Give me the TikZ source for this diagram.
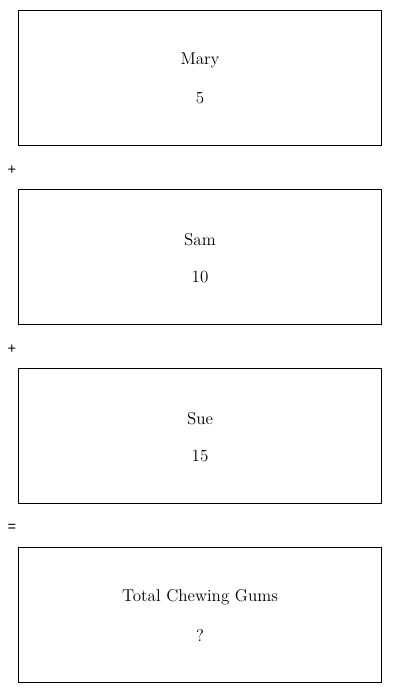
\documentclass[tikz,border=0pt]{standalone}
\usepackage{fontspec}
\newfontfamily\opfont{Liberation Sans}
\tikzset{
  gbox/.style={draw, line width=0.75pt, minimum width=363*0.75pt, minimum height=135*0.75pt, inner sep=0pt, anchor=north west},
  lbl/.style={font=\fontsize{12.8}{14}\selectfont, inner sep=0pt},
  op/.style={font=\opfont\fontsize{11}{12}\selectfont, inner sep=0pt}
}
\begin{document}
\begin{tikzpicture}[x=0.75pt, y=-0.75pt]
\useasboundingbox (0,0) rectangle (400,693);
\node[gbox] (b1) at (18,10) {};
\node[gbox] (b2) at (18,189) {};
\node[gbox] (b3) at (18,368) {};
\node[gbox] (b4) at (18,547) {};
\node[lbl] (t1) at (200,60.5) {Mary};
\node[lbl] (v1) at (200,98) {5};
\node[lbl] (t2) at (200,239.5) {Sam};
\node[lbl] (v2) at (200,277) {10};
\node[lbl] (t3) at (200,418.5) {Sue};
\node[lbl] (v3) at (200,456) {15};
\node[lbl] (t4) at (200,597.5) {Total Chewing Gums};
\node[lbl] (v4) at (200,635) {?};
\node[op] (p1) at (12,170) {+};
\node[op] (p2) at (12,349) {+};
\node[op] (e1) at (12,528) {=};
\end{tikzpicture}
\end{document}
